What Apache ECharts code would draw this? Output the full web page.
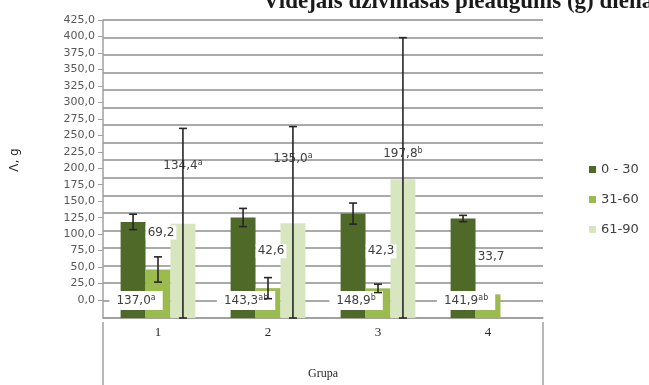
<!DOCTYPE html>
<html>
<head>
<meta charset="utf-8">
<script src="https://cdn.jsdelivr.net/npm/echarts@6/dist/echarts.min.js"></script>
<style>
  html, body { margin: 0; padding: 0; background: #fff; }
  #chart { width: 649px; height: 385px; }
</style>
</head>
<body>
<div id="chart"></div>
<script>
// Groups on the x axis
const categories = ['1', '2', '3', '4'];
const seriesNames = ['0 - 30', '31-60', '61-90'];

// Mean live-weight gain per period (g) and their error half-widths
const mean0to30 = [137.0, 143.3, 148.9, 141.9];
const err0to30 = [11, 13, 15, 4.5];
const sig0to30 = ['a', 'ab', 'b', 'ab'];

const mean31to60 = [69.2, 42.6, 42.3, 33.7];
const err31to60 = [18, 15, 6, 0];

const mean61to90 = [134.4, 135.0, 197.8, null];
const err61to90 = [136, 138, 202, null];
const sig61to90 = ['a', 'a', 'b', ''];

// Value-axis range and step
const yMin = 0, yMax = 425, yStep = 25;

const colors = ['#4f6a28', '#9bbb4f', '#d8e6c0'];
const fmt = v => v.toFixed(1).replace('.', ',');
const txt = '#404040';
const sans = 'DejaVu Sans';
const serif = 'Liberation Serif';

// extra lift of the 61-90 value labels above their bars
const lift61to90 = [51, 57, 18, 0];

const richSup = {
  v: { fontFamily: sans, fontSize: 12, color: txt },
  s: { fontFamily: sans, fontSize: 8, color: txt, verticalAlign: 'top', padding: [0, 0, 6, 0] }
};

const catGap = 0.32;

function errorSeries(idx, means, errs) {
  return {
    type: 'custom',
    name: seriesNames[idx] + ' err',
    z: 10,
    silent: true,
    data: means.map((m, i) => [i, m, errs[i]]),
    renderItem: function (params, api) {
      const m = api.value(1);
      const e = api.value(2);
      if (m == null || isNaN(m) || !e) return null;
      const band = api.size([1, 0])[0];
      const bw = band * (1 - catGap) / 3;
      const c = api.coord([api.value(0), m]);
      const x = c[0] + (idx - 1) * bw;
      const yTop = api.coord([0, Math.min(yMax, m + e)])[1];
      const yBot = api.coord([0, Math.max(yMin, m - e)])[1];
      const cap = 4;
      const st = { stroke: '#262626', lineWidth: 1.6 };
      return {
        type: 'group',
        children: [
          { type: 'line', shape: { x1: x, y1: yTop, x2: x, y2: yBot }, style: st },
          { type: 'line', shape: { x1: x - cap, y1: yTop, x2: x + cap, y2: yTop }, style: st },
          { type: 'line', shape: { x1: x - cap, y1: yBot, x2: x + cap, y2: yBot }, style: st }
        ]
      };
    }
  };
}

const gridL = 103, gridR = 106, gridT = 20, gridB = 63;
// the tick-label scale sits in its own, shorter band
const scaleB = 85;

const chart = echarts.init(document.getElementById('chart'));
chart.setOption({
  animation: false,
  backgroundColor: '#fff',
  title: {
    text: 'Vidējais dzīvmasas pieaugums (g) dienā',
    left: 258,
    top: -14,
    textStyle: { fontFamily: serif, fontWeight: 'bold', fontSize: 23, color: '#1a1a1a' }
  },
  legend: {
    orient: 'vertical',
    left: 584,
    top: 158,
    itemWidth: 7,
    itemHeight: 7,
    itemGap: 17,
    icon: 'rect',
    data: seriesNames,
    textStyle: { fontFamily: sans, fontSize: 13, color: txt }
  },
  grid: [
    { left: gridL, right: gridR, top: gridT, bottom: gridB },
    { left: gridL, right: gridR, top: gridT, bottom: scaleB }
  ],
  xAxis: [
    {
      type: 'category',
      gridIndex: 0,
      data: categories,
      name: 'Grupa',
      nameLocation: 'middle',
      nameGap: 50,
      nameTextStyle: { fontFamily: serif, fontSize: 12, color: '#262626' },
      axisLine: { lineStyle: { color: '#a0a0a0', width: 1.5 } },
      axisTick: { length: 35, lineStyle: { color: '#a0a0a0', width: 1.5 } },
      axisLabel: { fontFamily: serif, fontSize: 13, color: '#262626', margin: 8 }
    },
    { type: 'category', gridIndex: 1, data: categories, show: false }
  ],
  yAxis: [
    {
      type: 'value',
      gridIndex: 0,
      min: yMin,
      max: yMax,
      interval: yStep,
      axisLine: { show: true, lineStyle: { color: '#a0a0a0', width: 1.5 } },
      axisTick: { show: false },
      axisLabel: { show: false },
      splitLine: { lineStyle: { color: '#aaaaaa', width: 2 } }
    },
    {
      type: 'value',
      gridIndex: 1,
      min: yMin,
      max: yMax,
      interval: yStep,
      name: 'Λ, g',
      nameLocation: 'middle',
      nameRotate: 90,
      nameGap: 82,
      nameTextStyle: { fontFamily: sans, fontSize: 12, color: '#262626' },
      axisLine: { show: false },
      axisTick: { show: true, length: 5, lineStyle: { color: '#a0a0a0' } },
      axisLabel: { formatter: fmt, fontFamily: sans, fontSize: 11, color: '#595959', margin: 8 },
      splitLine: { show: false }
    }
  ],
  graphic: [
    { type: 'line', silent: true, shape: { x1: gridL, y1: 385 - gridB, x2: gridL, y2: 385 },
      style: { stroke: '#a0a0a0', lineWidth: 1.5 } },
    { type: 'line', silent: true, shape: { x1: 649 - gridR, y1: 385 - gridB, x2: 649 - gridR, y2: 385 },
      style: { stroke: '#a0a0a0', lineWidth: 1.5 } }
  ],
  series: [
    {
      type: 'bar',
      name: seriesNames[0],
      barGap: '0%',
      barCategoryGap: (catGap * 100) + '%',
      itemStyle: { color: colors[0] },
      data: mean0to30.map((v, i) => ({
        value: v,
        label: {
          show: true,
          position: 'insideBottom',
          distance: 8,
          offset: [3, 0],
          backgroundColor: '#fff',
          padding: [3, 7, 2, 7],
          formatter: '{v|' + fmt(v) + '}{s|' + sig0to30[i] + '}',
          rich: richSup
        }
      }))
    },
    {
      type: 'bar',
      name: seriesNames[1],
      itemStyle: { color: colors[1] },
      label: {
        show: true,
        position: 'top',
        distance: 30,
        offset: [3, 0],
        backgroundColor: '#fff',
        padding: [1, 2],
        fontFamily: sans,
        fontSize: 12,
        color: txt,
        formatter: p => fmt(p.value)
      },
      data: mean31to60
    },
    {
      type: 'bar',
      name: seriesNames[2],
      itemStyle: { color: colors[2] },
      data: mean61to90.map((v, i) => ({
        value: v,
        label: {
          show: v != null,
          position: 'top',
          distance: lift61to90[i],
          formatter: v == null ? '' : '{v|' + fmt(v) + '}{s|' + sig61to90[i] + '}',
          rich: richSup
        }
      }))
    },
    errorSeries(0, mean0to30, err0to30),
    errorSeries(1, mean31to60, err31to60),
    errorSeries(2, mean61to90, err61to90)
  ]
});
</script>
</body>
</html>
